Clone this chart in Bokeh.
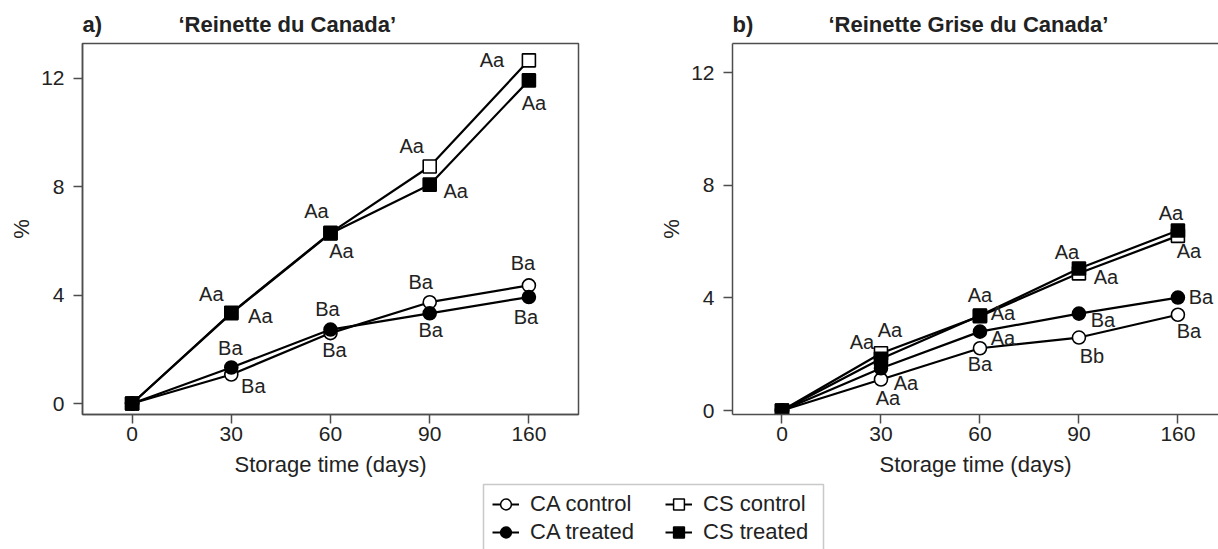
from bokeh.plotting import figure
from bokeh.layouts import column, row
from bokeh.models import (Range1d, FixedTicker, LinearAxis, Legend, LegendItem,
                          ColumnDataSource, BoxAnnotation)
from bokeh.embed import file_html
from bokeh.resources import INLINE
from bokeh.core.properties import value

FONT = "Liberation Sans"
TXT = "#222222"
AX = "#4d4d4d"

# ---------------- data ----------------
days = ["0", "30", "60", "90", "160"]
yticks = [0, 4, 8, 12]

panel_tags = ["a)", "b)"]
panel_titles = ["\u2018Reinette du Canada\u2019", "\u2018Reinette Grise du Canada\u2019"]

# a) 'Reinette du Canada'
a_ca_control = [0, 1.07, 2.60, 3.74, 4.36]
a_ca_treated = [0, 1.33, 2.73, 3.33, 3.93]
a_cs_control = [0, 3.35, 6.30, 8.75, 12.67]
a_cs_treated = [0, 3.33, 6.28, 8.08, 11.93]

a_ca_control_letters = ["", "Ba", "Ba", "Ba", "Ba"]
a_ca_treated_letters = ["", "Ba", "Ba", "Ba", "Ba"]
a_cs_control_letters = ["", "Aa", "Aa", "Aa", "Aa"]
a_cs_treated_letters = ["", "Aa", "Aa", "Aa", "Aa"]

# b) 'Reinette Grise du Canada'
b_ca_control = [0, 1.10, 2.21, 2.59, 3.40]
b_ca_treated = [0, 1.50, 2.80, 3.44, 4.01]
b_cs_control = [0, 2.03, 3.35, 4.87, 6.20]
b_cs_treated = [0, 1.84, 3.37, 5.04, 6.39]

b_ca_control_letters = ["", "Aa", "Ba", "Bb", "Ba"]
b_ca_treated_letters = ["", "Aa", "Aa", "Ba", "Ba"]
b_cs_control_letters = ["", "Aa", "Aa", "Aa", "Aa"]
b_cs_treated_letters = ["", "Aa", "Aa", "Aa", "Aa"]

# letter placement offsets (screen px, +y = down)
a_offsets = {
    "CA control": ([0, 22, 4, -9, -6], [0, 11, 17, -20, -22]),
    "CA treated": ([0, -1, -3, 1, -3], [0, -19, -21, 17, 20]),
    "CS control": ([0, -20, -14, -18, -37], [0, -19, -22, -21, 0]),
    "CS treated": ([0, 29, 11, 26, 5], [0, 3, 18, 6, 23]),
}
b_offsets = {
    "CA control": ([0, 7, 0, 13, 11], [0, 18, 16, 18, 16]),
    "CA treated": ([0, 25, 23, 24, 23], [0, 15, 6, 6, -1]),
    "CS control": ([0, -19, 0, 27, 11], [0, -11, -21, 4, 15]),
    "CS treated": ([0, 9, 23, -12, -7], [0, -29, -3, -17, -18]),
}

styles = {
    "CA control": dict(marker="circle", fill_color="white"),
    "CS control": dict(marker="square", fill_color="white"),
    "CA treated": dict(marker="circle", fill_color="black"),
    "CS treated": dict(marker="square", fill_color="black"),
}
order = ["CA control", "CS control", "CA treated", "CS treated"]


def make_panel(width, bl, br, x_end, y_rng, vals, letters, offsets, framed):
    p = figure(width=width, height=442, x_range=Range1d(-0.5, x_end),
               y_range=Range1d(*y_rng), output_backend="svg", toolbar_location=None,
               min_border_left=bl, min_border_right=br, min_border_top=5,
               min_border_bottom=66, background_fill_color="white",
               border_fill_color="white")
    p.xgrid.visible = False
    p.ygrid.visible = False
    xs = list(range(len(days)))
    p.xaxis.ticker = FixedTicker(ticks=xs)
    p.xaxis.major_label_overrides = {i: d for i, d in enumerate(days)}
    p.yaxis.ticker = FixedTicker(ticks=yticks)
    p.xaxis.axis_label = "Storage time (days)"
    p.yaxis.axis_label = "%"
    for ax in (p.xaxis[0], p.yaxis[0]):
        ax.axis_line_color = AX
        ax.axis_line_width = 1.5
        ax.major_tick_line_color = AX
        ax.major_tick_line_width = 1.5
        ax.major_tick_in = 0
        ax.major_tick_out = 9
        ax.minor_tick_line_color = None
        ax.major_label_text_font = FONT
        ax.major_label_text_font_size = "21px"
        ax.major_label_text_color = TXT
        ax.axis_label_text_font = FONT
        ax.axis_label_text_font_size = "22px"
        ax.axis_label_text_font_style = "normal"
        ax.axis_label_text_color = TXT
    p.xaxis.major_label_standoff = 3
    p.xaxis.axis_label_standoff = 8
    p.yaxis.major_label_standoff = 9
    p.yaxis.axis_label_standoff = 4
    if framed:
        p.outline_line_color = AX
        p.outline_line_width = 1.5
        p.outline_line_alpha = 1
    else:
        p.outline_line_color = None
        top = LinearAxis(ticker=FixedTicker(ticks=[]), axis_line_color=AX,
                         axis_line_width=1.5, major_tick_line_color=None,
                         minor_tick_line_color=None, major_tick_out=0,
                         major_tick_in=0)
        p.add_layout(top, "above")

    for name in order:
        p.line(xs, vals[name], line_color="black", line_width=2.2)
    for name in order:
        st = styles[name]
        p.scatter(xs, vals[name], marker=st["marker"], size=13,
                  fill_color=st["fill_color"], line_color="black", line_width=1.6)
    for name in order:
        dx, dy = offsets[name]
        keep = [i for i, t in enumerate(letters[name]) if t]
        src = ColumnDataSource(dict(
            x=[xs[i] for i in keep], y=[vals[name][i] for i in keep],
            t=[letters[name][i] for i in keep], dx=[dx[i] for i in keep],
            dy=[dy[i] for i in keep]))
        p.text(x="x", y="y", text="t", x_offset="dx", y_offset="dy", source=src,
               text_align="center", text_baseline="middle",
               text_font=value(FONT), text_font_size="20px", text_color=TXT)
    return p


# ---------------- title strip ----------------
W = 1218
pt = figure(width=W, height=38, x_range=Range1d(0, W), y_range=Range1d(0, 38),
            output_backend="svg", toolbar_location=None, min_border=0,
            x_axis_type=None, y_axis_type=None, outline_line_color=None)
pt.grid.visible = False
title_src = ColumnDataSource(dict(
    x=[82, 178, 732, 828],
    y=[14, 14, 14, 14],
    t=[panel_tags[0], panel_titles[0], panel_tags[1], panel_titles[1]]))
pt.text(x="x", y="y", text="t", source=title_src, text_align="left",
        text_baseline="middle", text_font=value(FONT), text_font_size="22px",
        text_font_style="bold", text_color=TXT)

pa = make_panel(620, 82, 42, 4.5, (-0.406, 13.292),
                {"CA control": a_ca_control, "CA treated": a_ca_treated,
                 "CS control": a_cs_control, "CS treated": a_cs_treated},
                {"CA control": a_ca_control_letters, "CA treated": a_ca_treated_letters,
                 "CS control": a_cs_control_letters, "CS treated": a_cs_treated_letters},
                a_offsets, True)

pb = make_panel(598, 112, 0, 4.41, (-0.142, 13.03),
                {"CA control": b_ca_control, "CA treated": b_ca_treated,
                 "CS control": b_cs_control, "CS treated": b_cs_treated},
                {"CA control": b_ca_control_letters, "CA treated": b_ca_treated_letters,
                 "CS control": b_cs_control_letters, "CS treated": b_cs_treated_letters},
                b_offsets, False)

# ---------------- legend strip ----------------
LH = 69
pl = figure(width=W, height=LH, x_range=Range1d(0, W), y_range=Range1d(0, LH),
            output_backend="svg", toolbar_location=None, min_border=0,
            x_axis_type=None, y_axis_type=None, outline_line_color=None)
pl.grid.visible = False

nan = float("nan")
items = {}
for name in order:
    st = styles[name]
    rl = pl.line(x=[nan], y=[nan], line_color="black", line_width=2)
    rs = pl.scatter(x=[nan], y=[nan], marker=st["marker"], size=13,
                    fill_color=st["fill_color"], line_color="black", line_width=1.5)
    items[name] = LegendItem(label=name, renderers=[rl, rs])

pl.add_layout(BoxAnnotation(left=483, right=823, top=LH - 4, bottom=-30,
                            fill_alpha=0, line_color=AX, line_width=1.5))

for names, loc in ((["CA control", "CA treated"], (492, 3)),
                   (["CS control", "CS treated"], (665, 3))):
    lg = Legend(items=[items[n] for n in names], location=loc, orientation="vertical",
                padding=5, margin=0, spacing=0, glyph_width=27, glyph_height=28,
                label_height=28, label_standoff=11, border_line_color=None,
                background_fill_alpha=0, label_text_font=FONT,
                label_text_font_size="22px", label_text_color=TXT)
    pl.add_layout(lg)

layout = column(pt, row(pa, pb), pl)
open("out.html", "w").write(file_html(layout, INLINE))
